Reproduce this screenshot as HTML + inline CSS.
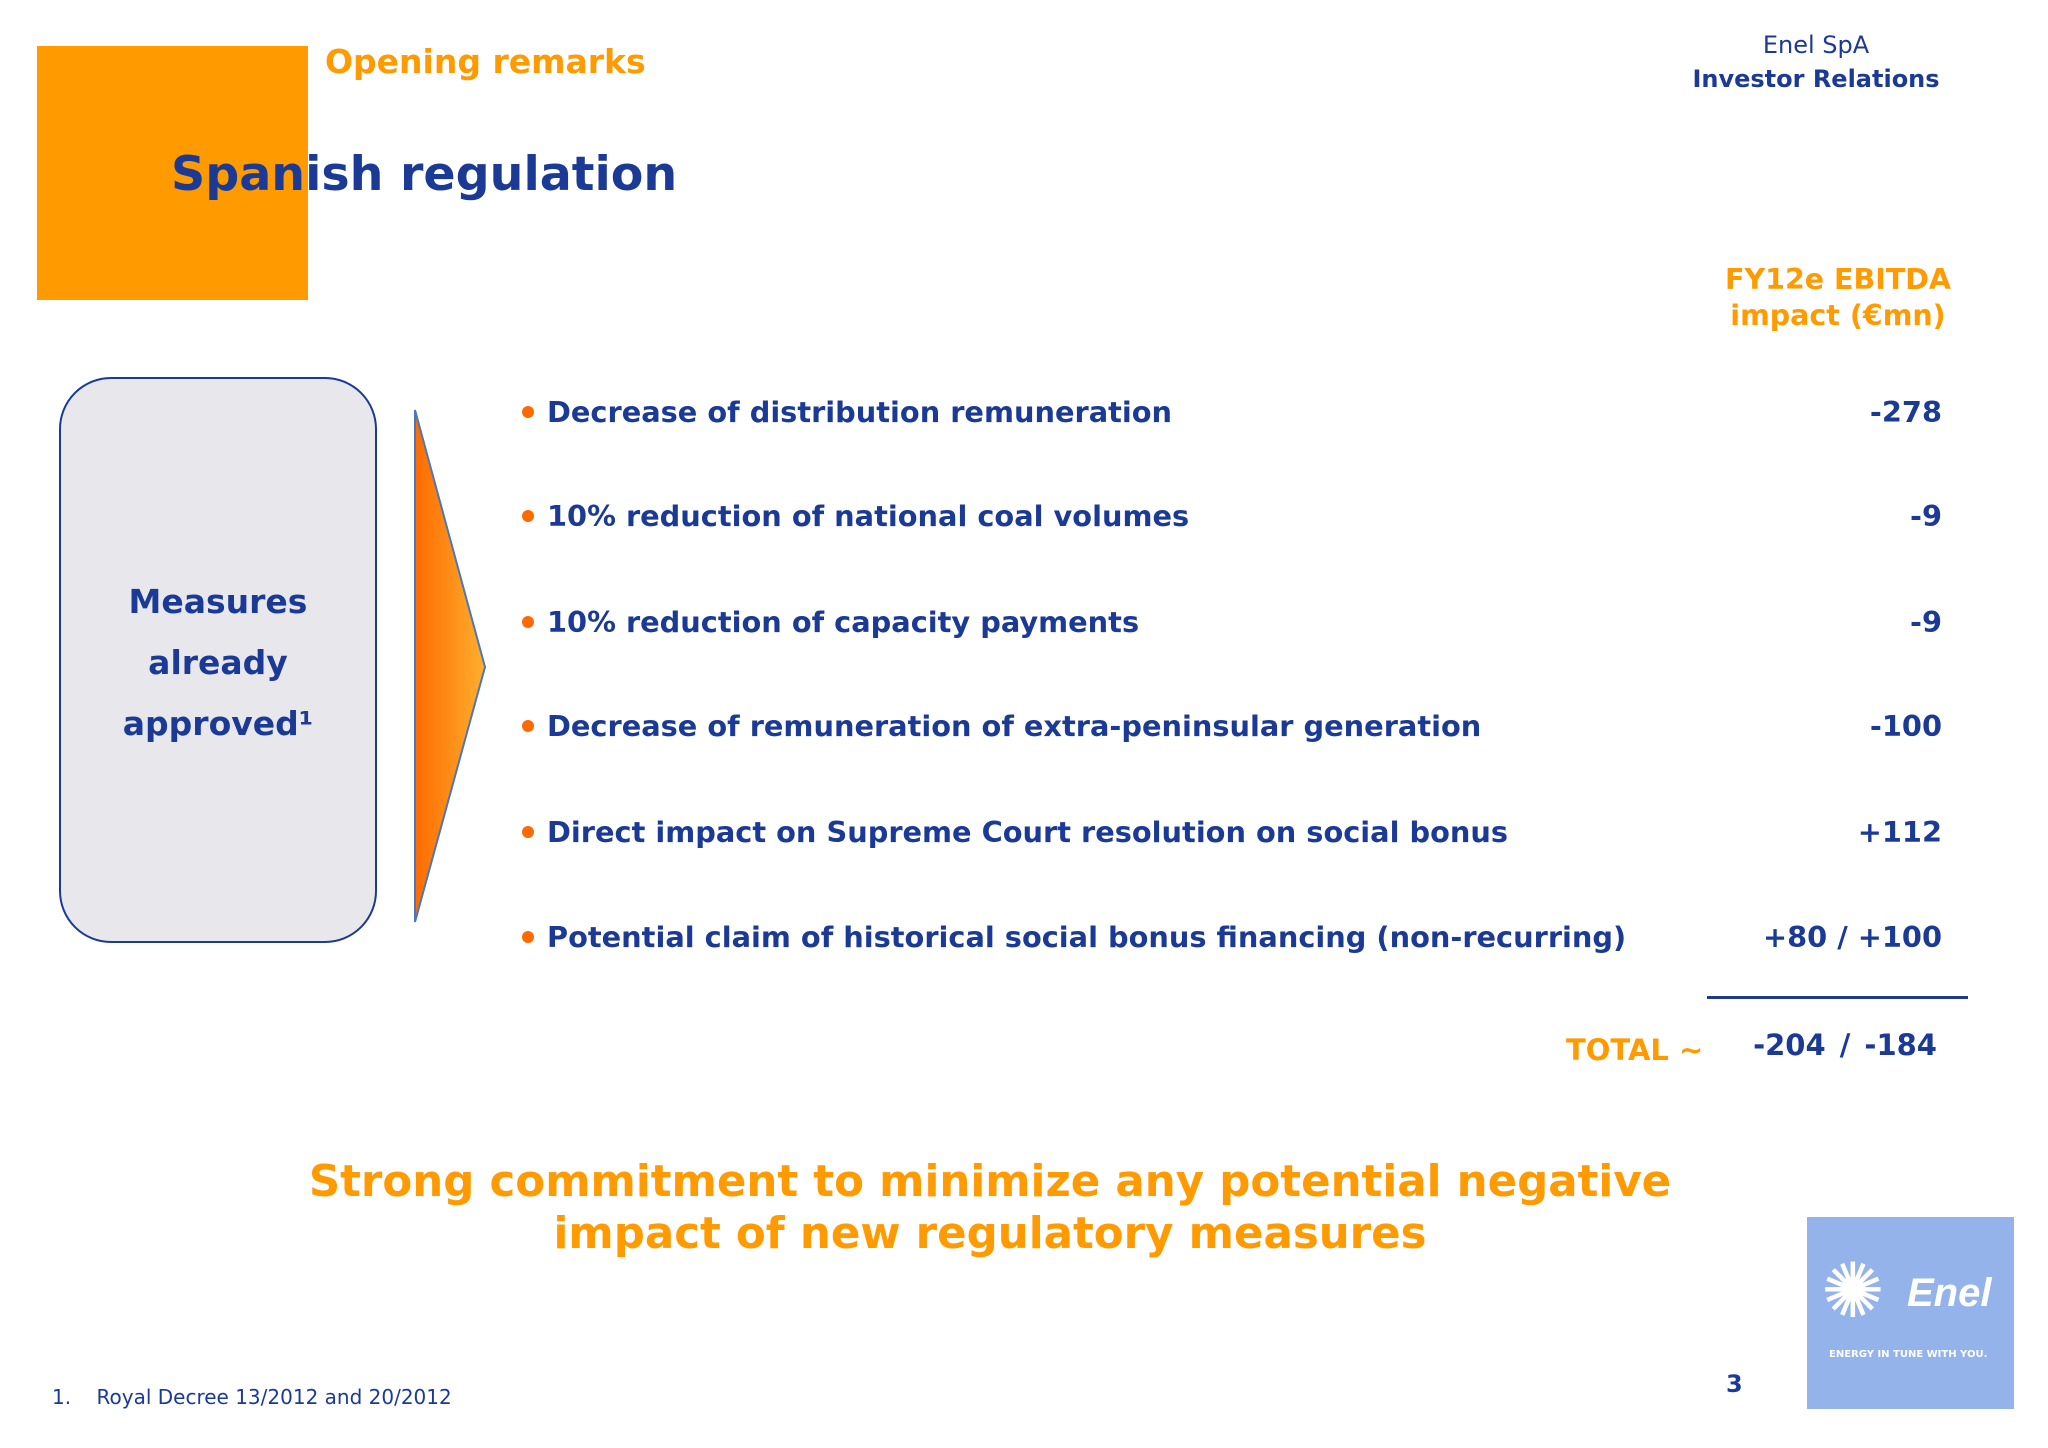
<!DOCTYPE html>
<html><head><meta charset="utf-8"><style>
body{margin:0;width:2048px;height:1448px;background:#fff;position:relative;overflow:hidden;font-family:"DejaVu Sans","Liberation Sans",sans-serif;}
.a{position:absolute;white-space:nowrap;}
.b{color:#1b3a96;font-weight:bold;}
.o{color:#ff9a00;font-weight:bold;}
.row{position:absolute;left:528px;width:1414px;height:40px;font-size:28.8px;line-height:40px;}
.dot{position:absolute;left:-6px;top:14px;width:12px;height:12px;border-radius:50%;background:#ff6a00;}
.lbl{position:absolute;left:19px;top:0;}
.val{position:absolute;right:0;top:0;}
</style></head><body>
<div class="a" style="left:37px;top:46px;width:271px;height:254px;background:#ff9a00"></div>
<div class="a o" style="left:325px;top:42px;font-size:33px">Opening remarks</div>
<div class="a b" style="left:171px;top:147px;font-size:47.5px">Spanish regulation</div>
<div class="a" style="left:1690px;width:252px;text-align:center;top:31px;font-size:24px;color:#1b3a96">Enel SpA</div>
<div class="a b" style="left:1690px;width:252px;text-align:center;top:65px;font-size:24px">Investor Relations</div>
<div class="a o" style="left:1700px;width:276px;text-align:center;top:262px;font-size:28.5px;line-height:36px">FY12e EBITDA<br>impact (€mn)</div>
<div class="a" style="left:59px;top:377px;width:314px;height:562px;border:2px solid #1b3a96;border-radius:52px;background:#e8e8ec"></div>
<div class="a b" style="left:59px;width:318px;text-align:center;top:571px;font-size:33px;line-height:61px">Measures<br>already<br>approved¹</div>
<svg class="a" style="left:410px;top:405px" width="85" height="525">
<defs><linearGradient id="g" x1="0" x2="1"><stop offset="0" stop-color="#ff6a00"/><stop offset="1" stop-color="#ffb030"/></linearGradient></defs>
<polygon points="5,5 75,262 5,517" fill="url(#g)" stroke="#4a78b8" stroke-width="2"/></svg>
<div class="row b" style="top:392px"><div class="dot"></div><span class="lbl">Decrease of distribution remuneration</span><span class="val">-278</span></div>
<div class="row b" style="top:496px"><div class="dot"></div><span class="lbl">10% reduction of national coal volumes</span><span class="val">-9</span></div>
<div class="row b" style="top:602px"><div class="dot"></div><span class="lbl">10% reduction of capacity payments</span><span class="val">-9</span></div>
<div class="row b" style="top:706px"><div class="dot"></div><span class="lbl">Decrease of remuneration of extra-peninsular generation</span><span class="val">-100</span></div>
<div class="row b" style="top:812px"><div class="dot"></div><span class="lbl">Direct impact on Supreme Court resolution on social bonus</span><span class="val">+112</span></div>
<div class="row b" style="top:917px"><div class="dot"></div><span class="lbl">Potential claim of historical social bonus financing (non-recurring)</span><span class="val">+80 / +100</span></div>
<div class="a" style="left:1707px;top:996px;width:261px;height:3px;background:#1b3a96"></div>
<div class="a o" style="left:1566px;top:1033px;font-size:29px">TOTAL ~</div>
<div class="a b" style="right:111px;top:1028px;font-size:29px;word-spacing:4px">-204 / -184</div>
<div class="a o" style="left:0;width:1980px;text-align:center;top:1156px;font-size:43.5px;line-height:52px">Strong commitment to minimize any potential negative<br>impact of new regulatory measures</div>
<div class="a" style="left:1807px;top:1217px;width:207px;height:192px;background:#93b3ea">
<div class="a" style="left:14px;top:34px;font-size:76px;line-height:80px;color:#fff">✺</div>
<div class="a" style="left:100px;top:54px;font-size:40px;color:#fff;font-style:italic;font-weight:bold;font-family:'Liberation Sans',sans-serif">Enel</div>
<div class="a" style="left:22px;top:132px;font-size:10px;color:#fff;font-weight:bold">ENERGY IN TUNE WITH YOU.</div></div>
<div class="a b" style="left:1726px;top:1370px;font-size:24px">3</div>
<div class="a" style="left:52px;top:1385px;font-size:20px;color:#1b3a96">1.&nbsp;&nbsp;&nbsp;&nbsp;Royal Decree 13/2012 and 20/2012</div>
</body></html>
